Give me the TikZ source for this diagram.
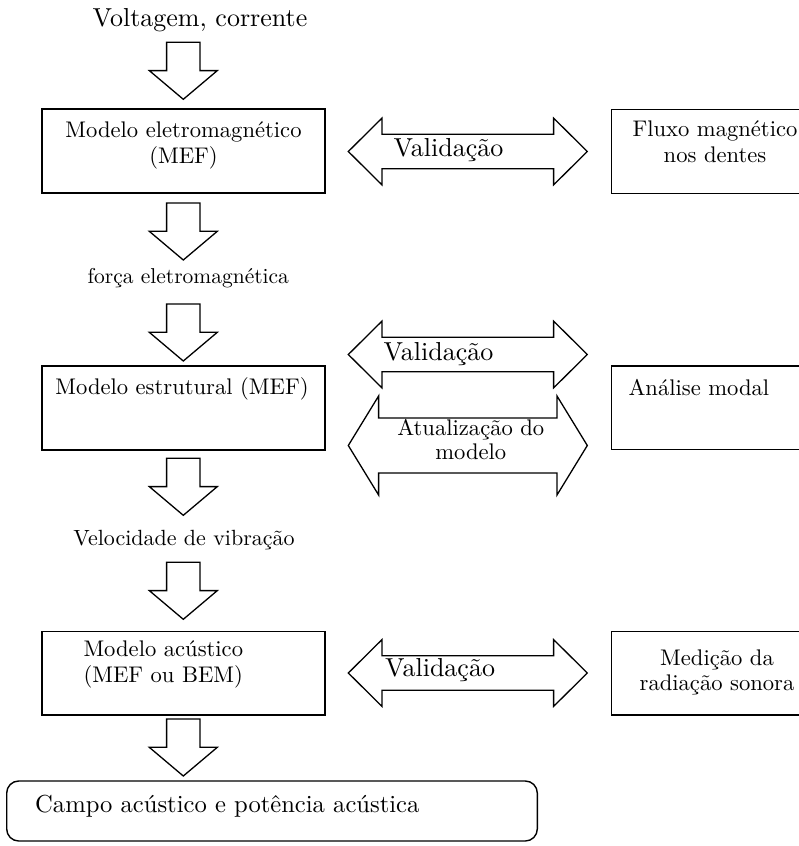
\documentclass[tikz,border=0pt]{standalone}
\usepackage{fontspec}
\setmainfont{lmroman10-regular.otf}
\begin{document}
\begin{tikzpicture}[x=1pt,y=-1pt,
  boxline/.style={draw=black,line width=1.4pt},
  blockline/.style={draw=black,line width=1.3pt,fill=white,line join=miter},
  box/.style={boxline,rectangle,inner sep=0pt},
  txt/.style={inner sep=0pt,font=\fontsize{22.6}{26}\selectfont},
  bigtxt/.style={inner sep=0pt,font=\fontsize{26}{31}\selectfont},
  dnarrow/.pic={\draw[blockline] (-16.7,0) -- (-16.7,28.3) -- (-34,28.3) -- (0,57) -- (34,28.3) -- (16.7,28.3) -- (16.7,0) -- cycle;},
  valarrow/.pic={\draw[blockline] (-119.5,0) -- (-85.8,-33.4) -- (-85.8,-17.2) -- (85.8,-17.2) -- (85.8,-33.4) -- (119.5,0) -- (85.8,33.4) -- (85.8,17.2) -- (-85.8,17.2) -- (-85.8,33.4) -- cycle;},
  atuarrow/.pic={\draw[blockline] (-119.5,0) -- (-89.2,-49.5) -- (-89.2,-27.5) -- (89.2,-27.5) -- (89.2,-49.5) -- (119.5,0) -- (89.2,49.5) -- (89.2,27.5) -- (-89.2,27.5) -- (-89.2,49.5) -- cycle;}
]
\useasboundingbox (0,0) rectangle (799,846);
\clip (0,0) rectangle (799,846);

% input label
\node[bigtxt,anchor=base] (volt) at (200,26.7) {Voltagem, corrente};

% left column boxes
\node[box,minimum width=283,minimum height=84] (em) at (183.5,151) {};
\node[box,minimum width=283,minimum height=84] (st) at (183.5,408) {};
\node[box,minimum width=283,minimum height=83.3] (ac) at (183.5,673.3) {};

% right column boxes (cut by the right edge)
\node[box,minimum width=206.3,minimum height=84] (fl) at (714.9,151.3) {};
\node[box,minimum width=206.3,minimum height=83.3] (an) at (714.9,407.7) {};
\node[box,minimum width=206.3,minimum height=83.3] (me) at (714.9,673.3) {};

% final rounded box
\node[boxline,rectangle,rounded corners=12pt,minimum width=530.6,minimum height=60,inner sep=0pt] (cp) at (272,811) {};

% down block arrows
\pic at (183.3,42.3) {dnarrow};
\pic at (183.3,203) {dnarrow};
\pic at (183.3,304) {dnarrow};
\pic at (183.3,458.3) {dnarrow};
\pic at (183.3,562.3) {dnarrow};
\pic at (183.3,719) {dnarrow};

% double block arrows
\pic at (467.8,151.5) {valarrow};
\pic at (467.8,354.5) {valarrow};
\pic at (467.8,445.5) {atuarrow};
\pic at (467.8,673) {valarrow};

% texts in left boxes
\node[txt,anchor=base] (em1) at (183.5,137) {Modelo eletromagnético};
\node[txt,anchor=base] (em2) at (183.5,163) {(MEF)};
\node[txt,anchor=base] (st1) at (182,394) {Modelo estrutural (MEF)};
\node[txt,anchor=base west] (ac1) at (83.3,656.7) {Modelo acústico};
\node[txt,anchor=base west] (ac2) at (83.3,682) {(MEF ou BEM)};

% texts in right boxes
\node[txt,anchor=base] (fl1) at (715,136.7) {Fluxo magnético};
\node[txt,anchor=base] (fl2) at (715,162.7) {nos dentes};
\node[txt,anchor=base west] (an1) at (628.3,395.7) {Análise modal};
\node[txt,anchor=base] (me1) at (717,665.7) {Medição da};
\node[txt,anchor=base] (me2) at (717,690) {radiação sonora};

% intermediate labels
\node[inner sep=0pt,font=\fontsize{21.5}{25}\selectfont,anchor=base] (fe) at (188.3,283.3) {força eletromagnética};
\node[inner sep=0pt,font=\fontsize{22}{26}\selectfont,anchor=base] (vv) at (184,545) {Velocidade de vibração};

% arrow labels
\node[bigtxt,anchor=base west] (v1) at (393.3,156) {Validação};
\node[bigtxt,anchor=base west] (v2) at (383.3,360) {Validação};
\node[txt,anchor=base] (at1) at (470.8,435) {Atualização do};
\node[txt,anchor=base] (at2) at (470.8,459) {modelo};
\node[bigtxt,anchor=base west] (v3) at (385,676) {Validação};

% final text
\node[inner sep=0pt,font=\fontsize{24.6}{29}\selectfont,anchor=base west] (cpt) at (35,812) {Campo acústico e potência acústica};
\end{tikzpicture}
\end{document}
